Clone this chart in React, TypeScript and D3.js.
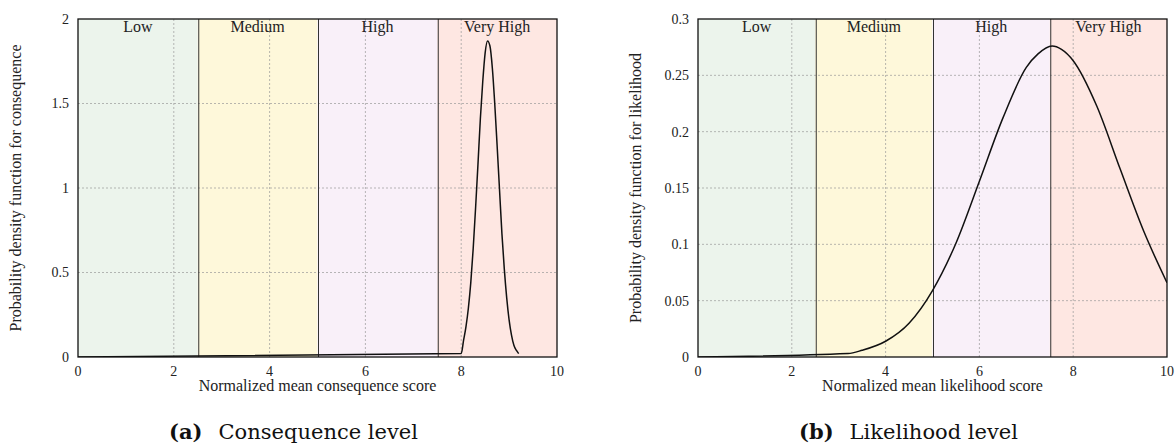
import React from 'react';
import * as d3 from 'd3';

// risk bands shared by both panels
const bandNames = ['Low', 'Medium', 'High', 'Very High'];
const bandEdges = [0, 2.5, 5, 7.5, 10];
const bandColors = ['#ecf4ec', '#fef8da', '#f9f0f9', '#fee7e2'];
const xTicks = [0, 2, 4, 6, 8, 10];

// (a) consequence pdf
const consequenceX = [0, 8, 8.05, 8.1, 8.15, 8.2, 8.25, 8.3, 8.35, 8.4, 8.45, 8.5, 8.55, 8.6, 8.65, 8.7, 8.75, 8.8, 8.85, 8.9, 8.95, 9.0, 9.05, 9.1, 9.15, 9.2];
const consequenceY = [0, 0.02, 0.1, 0.18, 0.29, 0.44, 0.64, 0.88, 1.14, 1.41, 1.63, 1.8, 1.87, 1.84, 1.71, 1.5, 1.25, 0.99, 0.73, 0.52, 0.35, 0.22, 0.13, 0.07, 0.04, 0.02];
const consequenceTicks = [0, 0.5, 1, 1.5, 2];

// (b) likelihood pdf
const likelihoodX = [0, 3.2, 3.5, 4, 4.5, 5, 5.5, 6, 6.5, 7, 7.25, 7.55, 7.75, 8, 8.5, 9, 9.5, 10];
const likelihoodY = [0, 0.003, 0.006, 0.014, 0.03, 0.059, 0.101, 0.156, 0.212, 0.257, 0.269, 0.276, 0.273, 0.263, 0.223, 0.167, 0.112, 0.066];
const likelihoodTicks = [0, 0.05, 0.1, 0.15, 0.2, 0.25, 0.3];

const serif = "'Liberation Serif', 'DejaVu Serif', serif";
const captionFont = "'DejaVu Serif', 'Liberation Serif', serif";
const top = 19;
const bottom = 357;

type PanelProps = {
  id: string;
  left: number;
  right: number;
  xs: number[];
  ys: number[];
  yTicks: number[];
  xTitle: string;
  yTitle: string;
  tag: string;
  caption: string;
};

const Panel = ({ id, left, right, xs, ys, yTicks, xTitle, yTitle, tag, caption }: PanelProps) => {
  const x = d3.scaleLinear().domain([0, 10]).range([left, right]);
  const y = d3.scaleLinear().domain([0, yTicks[yTicks.length - 1]]).range([bottom, top]);

  const line = d3.line<number>()
    .x((_, i) => x(xs[i]))
    .y(d => y(d))
    .curve(d3.curveMonotoneX);

  const mid = (left + right) / 2;

  return (
    <g fill="#222">
      <defs>
        <clipPath id={`clip-${id}`}>
          <rect x={left} y={top} width={right - left} height={bottom - top} />
        </clipPath>
      </defs>

      {/* bands */}
      {bandNames.map((name, i) => (
        <rect key={name} x={x(bandEdges[i])} y={top} width={x(bandEdges[i + 1]) - x(bandEdges[i])}
          height={bottom - top} fill={bandColors[i]} />
      ))}

      {/* dashed grid */}
      {xTicks.slice(1, -1).map(t => (
        <line key={'gx' + t} x1={x(t)} x2={x(t)} y1={top} y2={bottom}
          stroke="#999" strokeWidth={0.7} strokeDasharray="2,2" />
      ))}
      {yTicks.slice(1, -1).map(t => (
        <line key={'gy' + t} x1={left} x2={right} y1={y(t)} y2={y(t)}
          stroke="#999" strokeWidth={0.7} strokeDasharray="2,2" />
      ))}

      {/* band separators */}
      {bandEdges.slice(1, -1).map(e => (
        <line key={'b' + e} x1={x(e) + 1} x2={x(e) + 1} y1={top} y2={bottom} stroke="#333" strokeWidth={1} />
      ))}

      {/* band labels */}
      {bandNames.map((name, i) => (
        <text key={'l' + name} x={x((bandEdges[i] + bandEdges[i + 1]) / 2)} y={32}
          textAnchor="middle" fontSize={16}>{name}</text>
      ))}

      <path d={line(ys) ?? ''} fill="none" stroke="#111" strokeWidth={1.5} clipPath={`url(#clip-${id})`} />

      <rect x={left} y={top} width={right - left} height={bottom - top} fill="none" stroke="#111" strokeWidth={1.3} />

      {/* tick labels */}
      {xTicks.map(t => (
        <text key={'tx' + t} x={x(t)} y={bottom + 19} textAnchor="middle" fontSize={14}>{t}</text>
      ))}
      {yTicks.map(t => (
        <text key={'ty' + t} x={left - 9} y={y(t)} dy="0.35em" textAnchor="end" fontSize={14}>{t}</text>
      ))}

      <text x={mid} y={391} textAnchor="middle" fontSize={16}>{xTitle}</text>
      <text transform={`translate(${left - 57},${(top + bottom) / 2}) rotate(-90)`} textAnchor="middle" fontSize={16}>
        {yTitle}
      </text>

      <text x={mid - 24} y={439} textAnchor="middle" fontSize={21} fill="#111" fontFamily={captionFont}>
        <tspan fontWeight="bold">{tag}</tspan>
        <tspan dx={16}>{caption}</tspan>
      </text>
    </g>
  );
};

export default function App() {
  return (
    <svg width={1176} height={448}
      style={{ position: 'absolute', left: 0, top: 0, background: '#fff', fontFamily: serif }}>
      <Panel id="a" left={78} right={557} xs={consequenceX} ys={consequenceY} yTicks={consequenceTicks}
        xTitle="Normalized mean consequence score" yTitle="Probability density function for consequence"
        tag="(a)" caption="Consequence level" />
      <Panel id="b" left={698} right={1167} xs={likelihoodX} ys={likelihoodY} yTicks={likelihoodTicks}
        xTitle="Normalized mean likelihood score" yTitle="Probability density function for likelihood"
        tag="(b)" caption="Likelihood level" />
    </svg>
  );
}
